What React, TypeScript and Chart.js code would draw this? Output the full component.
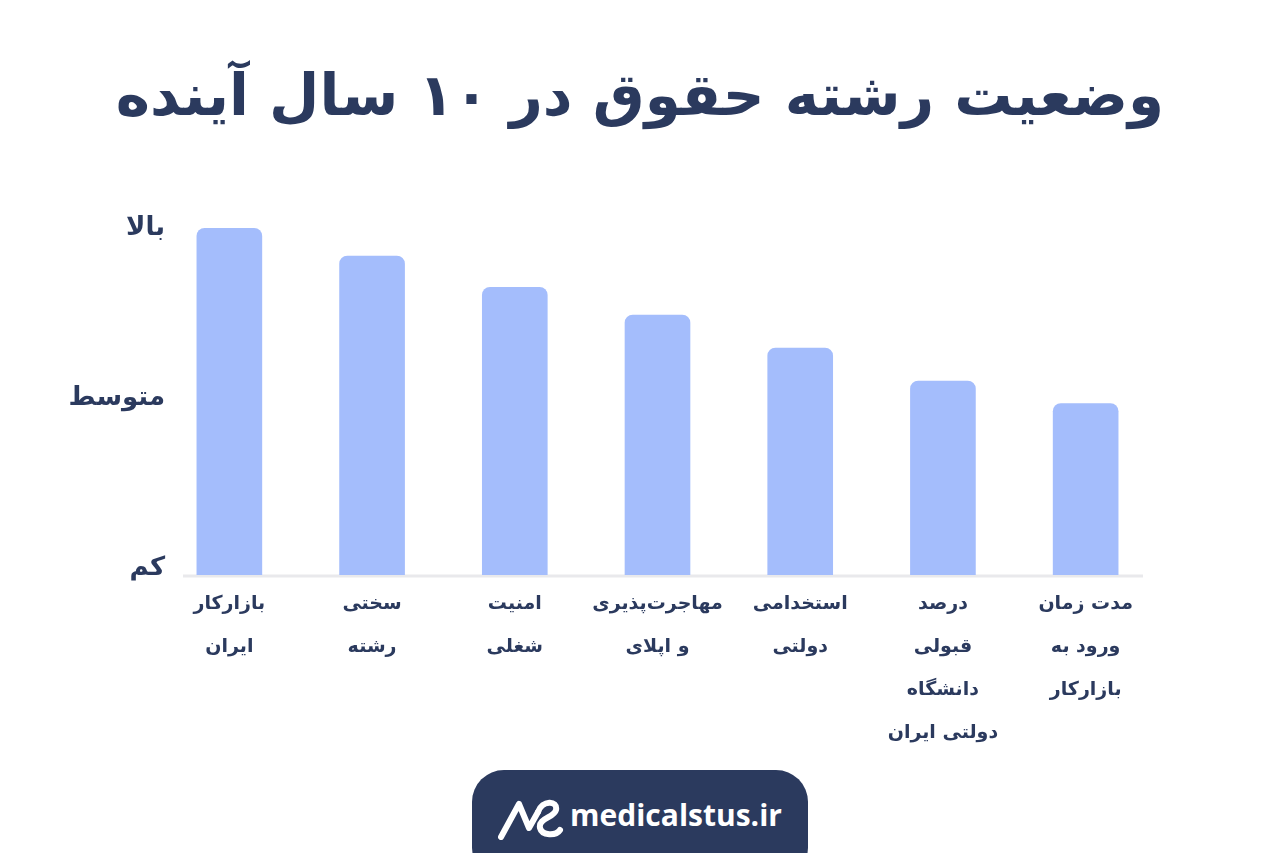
import React, { useEffect, useRef } from "react";
import { Chart, registerables } from "chart.js";

Chart.register(...registerables);

const TITLE = "وضعیت رشته حقوق در ۱۰ سال آینده";
const categories: string[][] = [
  ["بازارکار", "ایران"],
  ["سختی", "رشته"],
  ["امنیت", "شغلی"],
  ["مهاجرت‌پذیری", "و اپلای"],
  ["استخدامی", "دولتی"],
  ["درصد", "قبولی", "دانشگاه", "دولتی ایران"],
  ["مدت زمان", "ورود به", "بازارکار"],
];
const values: number[] = [10, 9.2, 8.3, 7.5, 6.55, 5.6, 4.95];
const yTickValues: number[] = [0.2, 5.1, 10];
const yTickLabels: string[] = ["کم", "متوسط", "بالا"];
const BRAND = "medicalstus.ir";

const NAVY = "#2b3a5e";
const BAR = "#a4bdfc";
const FONT = "'DejaVu Sans', 'Noto Sans', sans-serif";

const baselinePlugin = {
  id: "baseline",
  beforeDatasetsDraw(chart: any) {
    const { ctx, chartArea } = chart;
    ctx.save();
    ctx.strokeStyle = "#e9e9ec";
    ctx.lineWidth = 3;
    ctx.beginPath();
    ctx.moveTo(chartArea.left + 25, chartArea.bottom + 1);
    ctx.lineTo(chartArea.right - 14, chartArea.bottom + 1);
    ctx.stroke();
    ctx.restore();
  },
};

export default function App() {
  const ref = useRef<HTMLCanvasElement | null>(null);

  useEffect(() => {
    if (!ref.current) return;
    const chart = new Chart(ref.current, {
      type: "bar",
      data: {
        labels: categories,
        datasets: [
          {
            data: values,
            backgroundColor: BAR,
            borderRadius: 8,
            borderSkipped: "bottom",
            barPercentage: 0.46,
            categoryPercentage: 1,
          },
        ],
      },
      options: {
        animation: false,
        responsive: false,
        maintainAspectRatio: false,
        layout: { padding: { left: 58, right: 123, top: 228, bottom: 78 } },
        plugins: {
          legend: { display: false },
          tooltip: { enabled: false },
          title: { display: false },
        },
        scales: {
          x: {
            grid: { display: false, drawTicks: false },
            border: { display: false },
            ticks: {
              color: NAVY,
              font: { family: FONT, size: 19, weight: "bold", lineHeight: 2.25 },
              padding: 8,
              maxRotation: 0,
              autoSkip: false,
            },
            afterFit: (s: any) => {
              s.height = 200;
            },
          },
          y: {
            min: 0,
            max: 10,
            grid: { display: false, drawTicks: false },
            border: { display: false },
            afterBuildTicks: (s: any) => {
              s.ticks = yTickValues.map((v) => ({ value: v }));
            },
            afterFit: (s: any) => {
              s.width = 100;
              let w = 70;
              try {
                w = s._getLabelSizes().widest.width;
              } catch (e) {}
              s.options.ticks.padding = 7 - w;
            },
            ticks: {
              color: NAVY,
              mirror: true,
              crossAlign: "far",
              padding: -60,
              font: { family: FONT, size: 26, weight: "bold" },
              callback: (v: any) => {
                const i = yTickValues.indexOf(Number(v));
                return i >= 0 ? yTickLabels[i] : "";
              },
            },
          },
        },
      },
      plugins: [baselinePlugin],
    });
    return () => chart.destroy();
  }, []);

  return (
    <div
      style={{
        position: "fixed",
        left: 0,
        top: 0,
        width: 1280,
        height: 853,
        background: "#ffffff",
        overflow: "hidden",
      }}
    >
      <div
        dir="rtl"
        style={{
          position: "absolute",
          left: 0,
          top: 45,
          width: 1280,
          textAlign: "center",
          fontFamily: FONT,
          fontWeight: "bold",
          fontSize: 58,
          lineHeight: "100px",
          color: NAVY,
        }}
      >
        {TITLE}
      </div>
      <canvas
        ref={ref}
        width={1280}
        height={853}
        style={{ position: "absolute", left: 0, top: 0, width: 1280, height: 853 }}
      />
      <div
        style={{
          position: "absolute",
          left: 472,
          top: 770,
          width: 336,
          height: 110,
          background: NAVY,
          borderRadius: 32,
          display: "flex",
          alignItems: "flex-start",
          justifyContent: "center",
          paddingTop: 22,
          boxSizing: "border-box",
        }}
      >
        <svg width="66" height="46" viewBox="0 0 66 46" style={{ marginRight: 6, marginTop: 2 }}>
          <path
            d="M3 43 L21 10 L31 34 L40 18"
            fill="none"
            stroke="#ffffff"
            strokeWidth="6"
            strokeLinecap="round"
            strokeLinejoin="round"
          />
          <path
            d="M40 18 C44 6 60 6 58 16 C56 24 40 24 42 34 C44 42 58 42 62 36"
            fill="none"
            stroke="#ffffff"
            strokeWidth="6"
            strokeLinecap="round"
          />
        </svg>
        <span
          style={{
            fontFamily: "'Open Sans', sans-serif",
            fontWeight: 700,
            fontSize: 30,
            color: "#ffffff",
            lineHeight: "46px",
          }}
        >
          {BRAND}
        </span>
      </div>
    </div>
  );
}
